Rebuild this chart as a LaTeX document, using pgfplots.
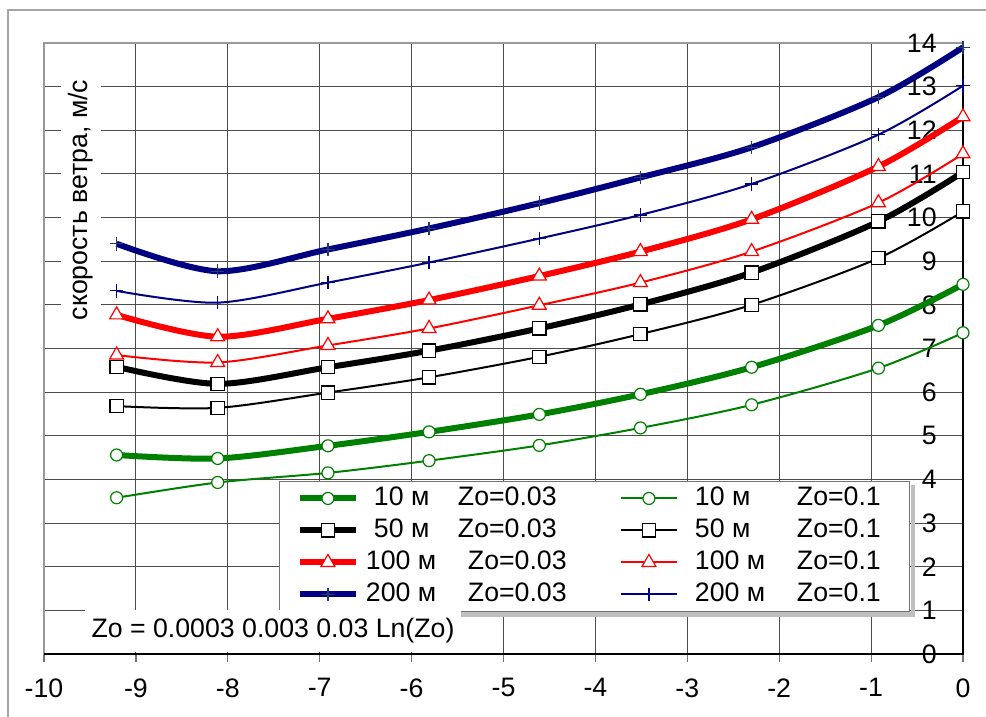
\documentclass[border=0pt]{standalone}
\usepackage{fontspec}
\setmainfont{Liberation Sans}
\usepackage{pgfplots}
\pgfplotsset{compat=1.18}
\definecolor{xlgreen}{RGB}{0,128,0}
\definecolor{xlnavy}{RGB}{0,0,128}
\definecolor{xlred}{RGB}{255,0,0}
\definecolor{plusblue}{RGB}{35,60,110}
\begin{document}
\fontsize{13.35pt}{16pt}\selectfont
\begin{tikzpicture}
\useasboundingbox (0,0) rectangle (493pt,358.5pt);
\draw[black!35, line width=0.6pt] (4pt,-2pt) -- (4pt,353.5pt) -- (495pt,353.5pt);
\begin{axis}[
  at={(22pt,31.5pt)}, anchor=south west, scale only axis,
  width=459.5pt, height=305.5pt,
  xmin=-10, xmax=0, ymin=0, ymax=14, clip=false,
  xtick={-10,-9,-8,-7,-6,-5,-4,-3,-2,-1,0},
  xticklabels={-10,-9,-8,-7,-6,-5,-4,-3,-2,-1,0},
  ytick={0,1,2,3,4,5,6,7,8,9,10,11,12,13,14},
  yticklabels={0,1,2,3,4,5,6,7,8,9,10,11,12,13,14},
  ytick pos=right, yticklabel pos=right, xtick pos=bottom,
  tick align=inside, major tick length=4pt,
  xtick style={black!55, line width=0.6pt, yshift=-4pt},
  ytick style={draw=none},
  xticklabel style={anchor=north, inner sep=0pt, yshift=-12pt},
  yticklabel style={anchor=east, inner sep=0pt, xshift=-13pt},
  grid=major, grid style={black!70, line width=0.55pt},
  axis line style={black!40, line width=1pt},
  legend columns=2, legend cell align=left,
  legend image code/.code={%
    \draw[#1, mark=none, sharp plot, line cap=butt] (0pt,0pt) -- (28pt,0pt);
    \draw[#1, only marks] plot coordinates {(14pt,0pt)};},
  legend style={name=leg, at={(0.2562,0.0688)}, anchor=south west, draw=black!55, line width=0.5pt,
    fill=white, inner xsep=8.5pt, inner ysep=1.5pt, row sep=2pt, column sep=0pt,
    nodes={inner sep=0pt, text height=10.5pt, text depth=3.5pt, anchor=west}},
  every axis plot/.append style={smooth, tension=0.5},
]
% 10 m Zo=0.03
\addplot[xlgreen, line width=3pt, mark=*, mark size=3pt, mark options={fill=white, draw=xlgreen, line width=0.6pt}]
 coordinates {(-9.21,4.56) (-8.11,4.48) (-6.91,4.77) (-5.81,5.09) (-4.61,5.49) (-3.51,5.95) (-2.30,6.57) (-0.92,7.53) (0,8.47)};
\addlegendentry{\makebox[130.5pt][l]{\hspace{7.5pt}\makebox[42pt][l]{10 м}Zo=0.03}}
% 10 m Zo=0.1
\addplot[xlgreen, line width=1pt, mark=*, mark size=3pt, mark options={fill=white, draw=xlgreen, line width=0.6pt}]
 coordinates {(-9.21,3.58) (-8.11,3.93) (-6.91,4.15) (-5.81,4.43) (-4.61,4.78) (-3.51,5.18) (-2.30,5.71) (-0.92,6.55) (0,7.36)};
\addlegendentry{\makebox[107.5pt][l]{\hspace{8.5pt}\makebox[51pt][l]{10 м}Zo=0.1}}
% 50 m Zo=0.03
\addplot[black, line width=3pt, mark=square*, mark size=3.3pt, mark options={fill=white, draw=black, line width=0.6pt}]
 coordinates {(-9.21,6.58) (-8.11,6.19) (-6.91,6.57) (-5.81,6.95) (-4.61,7.46) (-3.51,8.01) (-2.30,8.74) (-0.92,9.91) (0,11.04)};
\addlegendentry{\makebox[130.5pt][l]{\hspace{7.5pt}\makebox[42pt][l]{50 м}Zo=0.03}}
% 50 m Zo=0.1
\addplot[black, line width=1pt, mark=square*, mark size=3.3pt, mark options={fill=white, draw=black, line width=0.6pt}]
 coordinates {(-9.21,5.68) (-8.11,5.64) (-6.91,5.99) (-5.81,6.34) (-4.61,6.81) (-3.51,7.33) (-2.30,8.00) (-0.92,9.07) (0,10.14)};
\addlegendentry{\makebox[107.5pt][l]{\hspace{8.5pt}\makebox[51pt][l]{50 м}Zo=0.1}}
% 100 m Zo=0.03
\addplot[xlred, line width=3pt, mark=triangle*, mark size=4pt, mark options={fill=white, draw=xlred, line width=0.6pt}]
 coordinates {(-9.21,7.77) (-8.11,7.27) (-6.91,7.68) (-5.81,8.11) (-4.61,8.66) (-3.51,9.22) (-2.30,9.96) (-0.92,11.17) (0,12.31)};
\addlegendentry{\makebox[130.5pt][l]{\hspace{3.5pt}\makebox[51pt][l]{100 м}Zo=0.03}}
% 100 m Zo=0.1
\addplot[xlred, line width=1pt, mark=triangle*, mark size=4pt, mark options={fill=white, draw=xlred, line width=0.6pt}]
 coordinates {(-9.21,6.85) (-8.11,6.68) (-6.91,7.07) (-5.81,7.46) (-4.61,7.99) (-3.51,8.51) (-2.30,9.22) (-0.92,10.34) (0,11.46)};
\addlegendentry{\makebox[107.5pt][l]{\hspace{8.5pt}\makebox[51pt][l]{100 м}Zo=0.1}}
% 200 m Zo=0.03
\addplot[xlnavy, line width=3pt, mark=+, mark size=3.4pt, mark options={draw=plusblue, line width=0.6pt}]
 coordinates {(-9.21,9.40) (-8.11,8.77) (-6.91,9.27) (-5.81,9.75) (-4.61,10.33) (-3.51,10.92) (-2.30,11.61) (-0.92,12.76) (0,13.90)};
\addlegendentry{\makebox[130.5pt][l]{\hspace{3.5pt}\makebox[51pt][l]{200 м}Zo=0.03}}
% 200 m Zo=0.1
\addplot[xlnavy, line width=1pt, mark=+, mark size=3.4pt, mark options={draw=xlnavy, line width=0.6pt}]
 coordinates {(-9.21,8.32) (-8.11,8.05) (-6.91,8.51) (-5.81,8.97) (-4.61,9.52) (-3.51,10.06) (-2.30,10.77) (-0.92,11.90) (0,13.02)};
\addlegendentry{\makebox[107.5pt][l]{\hspace{8.5pt}\makebox[51pt][l]{200 м}Zo=0.1}}
\draw[black, line width=0.8pt] (axis cs:-10,0) -- (axis cs:0,0) -- (axis cs:0,14);
\end{axis}
\fill[black!25] ([shift={(2pt,-2.5pt)}]leg.south west) rectangle ([shift={(2.5pt,-0.25pt)}]leg.south east);
\fill[black!25] ([shift={(0.25pt,-2.5pt)}]leg.south east) rectangle ([shift={(2.5pt,-2pt)}]leg.north east);
\node[rotate=90, fill=white, inner xsep=3pt, inner ysep=4pt] at (40.5pt,258.5pt) {скорость ветра, м/с};
\node[fill=white, inner xsep=3.5pt, minimum height=20pt] at (136.5pt,43pt) {Zo = 0.0003 0.003 0.03 Ln(Zo)};
\end{tikzpicture}
\end{document}
